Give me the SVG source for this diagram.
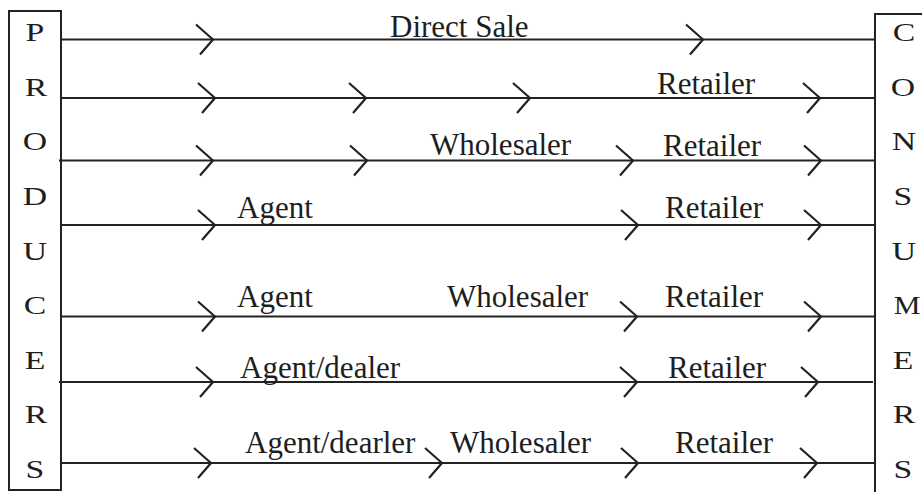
<svg xmlns="http://www.w3.org/2000/svg" xmlns:xlink="http://www.w3.org/1999/xlink" width="922" height="492" viewBox="0 0 922 492">
<style>
.box{fill:none;stroke:#222;stroke-width:2}
.ln{stroke:#222;stroke-width:2.2;fill:none}
.ch{stroke:#222;stroke-width:2.2;fill:none;stroke-linecap:butt;stroke-linejoin:miter}
.lt{font-family:"Liberation Serif","Times New Roman",serif;font-size:25px;fill:#1e1e1e;text-anchor:middle}
.lb{font-family:"Liberation Serif","Times New Roman",serif;font-size:31px;fill:#1e1e1e}
</style>
<defs>
<path id="chev" class="ch" d="M-17 -15 L0 0 L-13 15"/>
</defs>
<rect width="922" height="492" fill="#fff"/>
<g id="producers">
<rect class="box" x="9" y="11" width="52" height="479"/>
<text class="lt" transform="matrix(1.35 0 0 1 35 41)">P</text>
<text class="lt" transform="matrix(1.35 0 0 1 36 96)">R</text>
<text class="lt" transform="matrix(1.35 0 0 1 35 150)">O</text>
<text class="lt" transform="matrix(1.35 0 0 1 35 205)">D</text>
<text class="lt" transform="matrix(1.35 0 0 1 35 260)">U</text>
<text class="lt" transform="matrix(1.35 0 0 1 35 314)">C</text>
<text class="lt" transform="matrix(1.35 0 0 1 35 369)">E</text>
<text class="lt" transform="matrix(1.35 0 0 1 36 423)">R</text>
<text class="lt" transform="matrix(1.35 0 0 1 35 478)">S</text>
</g>
<g id="consumers">
<path class="box" d="M924 14 H875 V494"/>
<text class="lt" transform="matrix(1.35 0 0 1 904 41)">C</text>
<text class="lt" transform="matrix(1.35 0 0 1 903 96)">O</text>
<text class="lt" transform="matrix(1.35 0 0 1 904 150)">N</text>
<text class="lt" transform="matrix(1.35 0 0 1 903 205)">S</text>
<text class="lt" transform="matrix(1.35 0 0 1 904 260)">U</text>
<text class="lt" transform="matrix(1.2 0 0 1 907 314)">M</text>
<text class="lt" transform="matrix(1.35 0 0 1 903 369)">E</text>
<text class="lt" transform="matrix(1.35 0 0 1 904 423)">R</text>
<text class="lt" transform="matrix(1.35 0 0 1 903 478)">S</text>
</g>
<g id="connectors">
<line class="ln" x1="61" y1="39.5" x2="875" y2="39.5"/>
<line class="ln" x1="61" y1="98" x2="875" y2="98"/>
<line class="ln" x1="59" y1="160.5" x2="875" y2="160.5"/>
<line class="ln" x1="61" y1="225" x2="875" y2="225"/>
<line class="ln" x1="61" y1="316.5" x2="875" y2="316.5"/>
<line class="ln" x1="59" y1="382" x2="873" y2="382"/>
<line class="ln" x1="61" y1="463" x2="875" y2="463"/>
<use xlink:href="#chev" x="213" y="39.5"/>
<use xlink:href="#chev" x="703" y="39.5"/>
<use xlink:href="#chev" x="215" y="98"/>
<use xlink:href="#chev" x="366" y="98"/>
<use xlink:href="#chev" x="530" y="98"/>
<use xlink:href="#chev" x="820" y="98"/>
<use xlink:href="#chev" x="213" y="160.5"/>
<use xlink:href="#chev" x="367" y="160.5"/>
<use xlink:href="#chev" x="633" y="160.5"/>
<use xlink:href="#chev" x="821" y="160.5"/>
<use xlink:href="#chev" x="215" y="225"/>
<use xlink:href="#chev" x="638" y="225"/>
<use xlink:href="#chev" x="821" y="225"/>
<use xlink:href="#chev" x="215" y="316.5"/>
<use xlink:href="#chev" x="637" y="316.5"/>
<use xlink:href="#chev" x="821" y="316.5"/>
<use xlink:href="#chev" x="213" y="382"/>
<use xlink:href="#chev" x="637" y="382"/>
<use xlink:href="#chev" x="818" y="382"/>
<use xlink:href="#chev" x="211" y="463"/>
<use xlink:href="#chev" x="442" y="463"/>
<use xlink:href="#chev" x="638" y="463"/>
<use xlink:href="#chev" x="817" y="463"/>
<text class="lb" x="390" y="37">Direct Sale</text>
<text class="lb" x="657" y="94">Retailer</text>
<text class="lb" x="430" y="155">Wholesaler</text>
<text class="lb" x="663" y="156">Retailer</text>
<text class="lb" x="237" y="218">Agent</text>
<text class="lb" x="665" y="218">Retailer</text>
<text class="lb" x="237" y="307">Agent</text>
<text class="lb" x="447" y="307">Wholesaler</text>
<text class="lb" x="665" y="307">Retailer</text>
<text class="lb" x="240" y="378">Agent/dealer</text>
<text class="lb" x="668" y="378">Retailer</text>
<text class="lb" x="245" y="453">Agent/dearler</text>
<text class="lb" x="450" y="453">Wholesaler</text>
<text class="lb" x="675" y="453">Retailer</text>
</g>
</svg>
